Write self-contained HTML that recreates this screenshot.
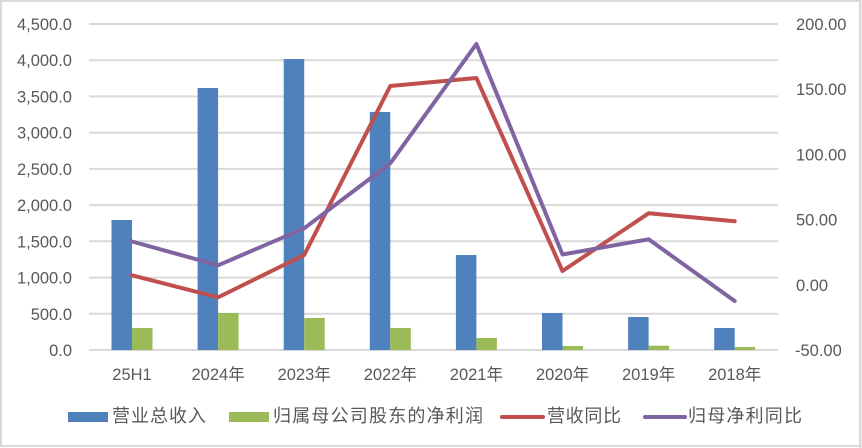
<!DOCTYPE html>
<html>
<head>
<meta charset="utf-8">
<style>
html,body{margin:0;padding:0;background:#fff;}
body{width:862px;height:448px;overflow:hidden;}
svg{display:block;}
text{font-family:"Liberation Sans","Noto Sans CJK SC",sans-serif;fill:#595959;}
</style>
</head>
<body>
<svg width="862" height="448" viewBox="0 0 862 448" xmlns="http://www.w3.org/2000/svg">
  <rect x="0" y="0" width="862" height="448" fill="#fff"/>
  <!-- border -->
  <rect x="1" y="1" width="859" height="445" fill="none" stroke="#d9d9d9" stroke-width="2"/>
  <line x1="860.5" y1="0" x2="860.5" y2="448" stroke="#d9d9d9" stroke-width="2"/>

  <!-- gridlines -->
  <g stroke="#d9d9d9" stroke-width="2">
    <line x1="89" y1="24" x2="778" y2="24"/>
    <line x1="89" y1="60.2" x2="778" y2="60.2"/>
    <line x1="89" y1="96.4" x2="778" y2="96.4"/>
    <line x1="89" y1="132.7" x2="778" y2="132.7"/>
    <line x1="89" y1="168.9" x2="778" y2="168.9"/>
    <line x1="89" y1="205.1" x2="778" y2="205.1"/>
    <line x1="89" y1="241.3" x2="778" y2="241.3"/>
    <line x1="89" y1="277.6" x2="778" y2="277.6"/>
    <line x1="89" y1="313.8" x2="778" y2="313.8"/>
    <line x1="89" y1="350" x2="778" y2="350"/>
  </g>

  <!-- left axis labels -->
  <g font-size="16.5" text-anchor="end">
    <text x="72" y="30">4,500.0</text>
    <text x="72" y="66.2">4,000.0</text>
    <text x="72" y="102.4">3,500.0</text>
    <text x="72" y="138.7">3,000.0</text>
    <text x="72" y="174.9">2,500.0</text>
    <text x="72" y="211.1">2,000.0</text>
    <text x="72" y="247.3">1,500.0</text>
    <text x="72" y="283.6">1,000.0</text>
    <text x="72" y="319.8">500.0</text>
    <text x="72" y="356">0.0</text>
  </g>

  <!-- right axis labels -->
  <g font-size="16.5" text-anchor="start">
    <text x="796" y="30">200.00</text>
    <text x="796" y="95.2">150.00</text>
    <text x="796" y="160.4">100.00</text>
    <text x="796" y="225.6">50.00</text>
    <text x="796" y="290.8">0.00</text>
    <text x="795" y="356">-50.00</text>
  </g>

  <!-- bars: blue -->
  <g fill="#4f81bd">
    <rect x="111.5" y="220" width="20.5" height="130"/>
    <rect x="197.6" y="88" width="20.5" height="262"/>
    <rect x="283.7" y="59" width="20.5" height="291"/>
    <rect x="369.8" y="112" width="20.5" height="238"/>
    <rect x="455.9" y="255" width="20.5" height="95"/>
    <rect x="542" y="313" width="20.5" height="37"/>
    <rect x="628.1" y="317" width="20.5" height="33"/>
    <rect x="714.2" y="328" width="20.5" height="22"/>
  </g>
  <!-- bars: green -->
  <g fill="#9bbb59">
    <rect x="132" y="328" width="20.5" height="22"/>
    <rect x="218.1" y="313" width="20.5" height="37"/>
    <rect x="304.2" y="318" width="20.5" height="32"/>
    <rect x="390.3" y="328" width="20.5" height="22"/>
    <rect x="476.4" y="338" width="20.5" height="12"/>
    <rect x="562.5" y="346" width="20.5" height="4"/>
    <rect x="648.6" y="345.7" width="20.5" height="4.3"/>
    <rect x="734.7" y="347" width="20.5" height="3"/>
  </g>

  <!-- lines -->
  <polyline fill="none" stroke="#c0504d" stroke-width="4" stroke-linejoin="round" stroke-linecap="round"
    points="132,275.3 218.1,297.3 304.2,255 390.3,86 476.4,78 562.5,271 648.6,213.3 734.7,221.3"/>
  <polyline fill="none" stroke="#8064a2" stroke-width="4" stroke-linejoin="round" stroke-linecap="round"
    points="132,241.5 218.1,265.3 304.2,228.3 390.3,163.3 476.4,44 562.5,254.5 648.6,239.3 734.7,301"/>

  <!-- x labels -->
  <g font-size="16.5" text-anchor="middle">
    <text x="132" y="380">25H1</text>
    <text x="218.1" y="380">2024年</text>
    <text x="304.2" y="380">2023年</text>
    <text x="390.3" y="380">2022年</text>
    <text x="476.4" y="380">2021年</text>
    <text x="562.5" y="380">2020年</text>
    <text x="648.6" y="380">2019年</text>
    <text x="734.7" y="380">2018年</text>
  </g>

  <!-- legend -->
  <rect x="68" y="412" width="40" height="10" fill="#4f81bd"/>
  <text x="112" y="422" font-size="18" textLength="94" lengthAdjust="spacing">营业总收入</text>
  <rect x="229" y="412" width="40" height="10" fill="#9bbb59"/>
  <text x="273" y="422" font-size="18" textLength="210" lengthAdjust="spacing">归属母公司股东的净利润</text>
  <line x1="502" y1="417" x2="543" y2="417" stroke="#c0504d" stroke-width="4" stroke-linecap="round"/>
  <text x="547" y="422" font-size="18" textLength="74" lengthAdjust="spacing">营收同比</text>
  <line x1="645" y1="417" x2="685" y2="417" stroke="#8064a2" stroke-width="4" stroke-linecap="round"/>
  <text x="688" y="422" font-size="18" textLength="114" lengthAdjust="spacing">归母净利同比</text>
</svg>
</body>
</html>
